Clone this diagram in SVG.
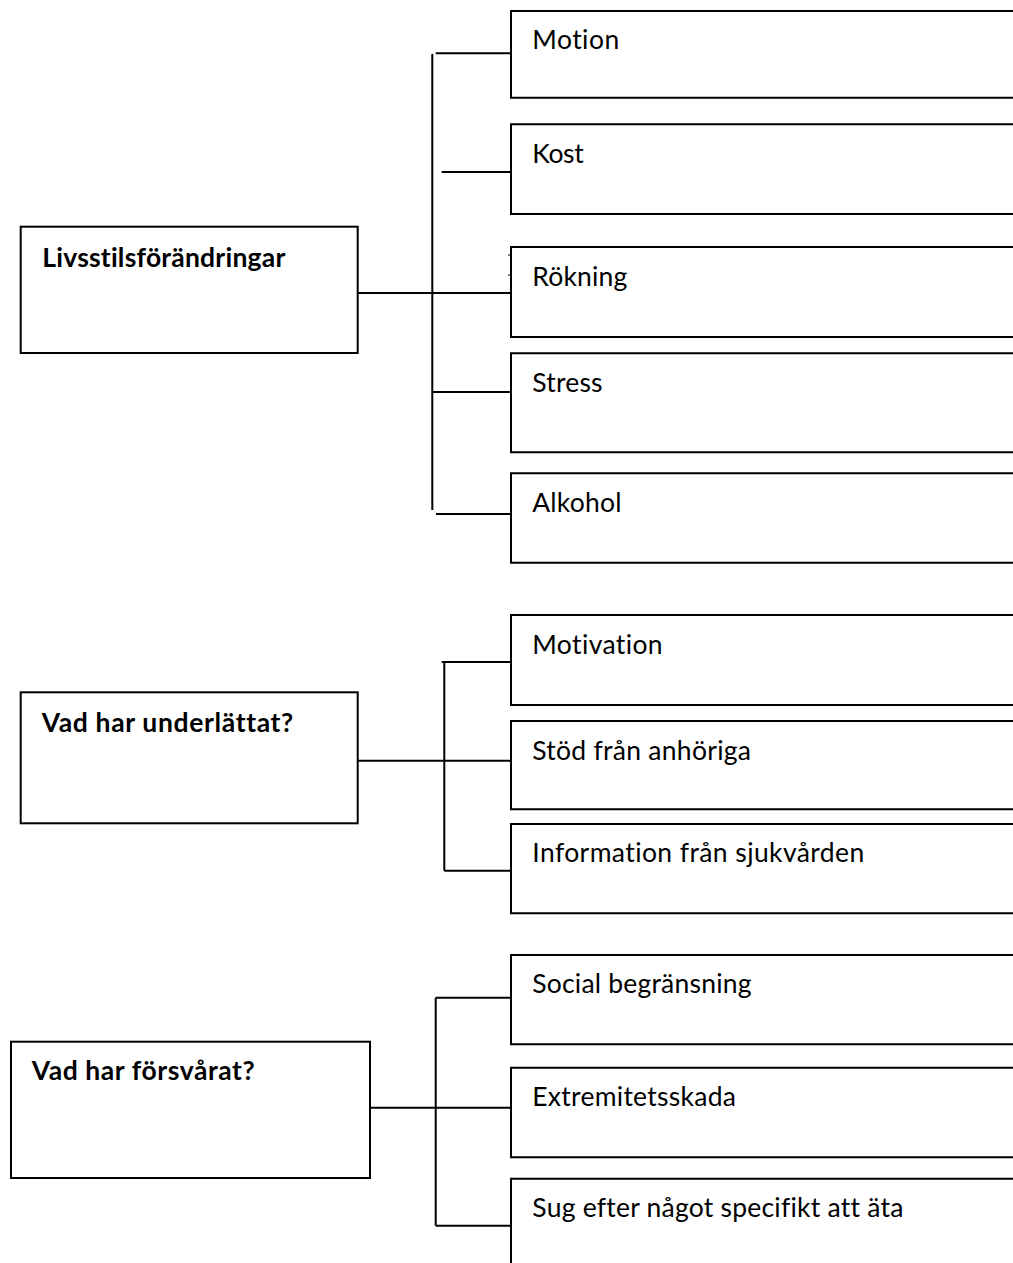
<svg xmlns="http://www.w3.org/2000/svg" width="1013" height="1263" viewBox="0 0 1013 1263">
<style>
.box{fill:#fff;stroke:#000;stroke-width:2}
.open{fill:#fff;stroke:#000;stroke-width:2}
.ln{stroke:#000;stroke-width:2;fill:none}
.tick{stroke:#000;stroke-width:1;fill:none}
.t{font-family:Lato,"Open Sans","Liberation Sans",sans-serif;font-size:26.5px;fill:#000;font-variant-ligatures:none;font-feature-settings:"liga" 0}
.b{font-family:Lato,"Open Sans","Liberation Sans",sans-serif;font-size:26.5px;font-weight:bold;fill:#000;font-variant-ligatures:none;font-feature-settings:"liga" 0}
</style>
<rect width="1013" height="1263" fill="#fff"/>
<g id="connectors">
<path class="ln" d="M432.3,54 V510"/>
<path class="ln" d="M435.7,53.3 H511"/>
<path class="ln" d="M441.7,172 H511"/>
<path class="ln" d="M357.7,293 H511"/>
<path class="ln" d="M432.3,392 H511"/>
<path class="ln" d="M436,514 H511"/>
<path class="tick" d="M508,255 H511 M508,275 H511"/>
<path class="ln" d="M444.3,662 V870.7"/>
<path class="ln" d="M441.7,662 H511"/>
<path class="ln" d="M357.3,760.7 H511"/>
<path class="ln" d="M444.3,870.7 H511"/>
<path class="ln" d="M435.7,997.7 V1225.7"/>
<path class="ln" d="M435.7,997.7 H511"/>
<path class="ln" d="M370,1107.7 H511"/>
<path class="ln" d="M435.7,1225.7 H511"/>
</g>
<g id="livsstil">
<rect class="box" x="20.7" y="226.7" width="337" height="126.3"/>
<text class="b" x="42.3" y="266.7" textLength="243">Livsstilsförändringar</text>
</g>
<g id="motion">
<path class="open" d="M1014,11 H511 V97.7 H1014"/>
<text class="t" x="532.3" y="49.3" textLength="86.9">Motion</text>
</g>
<g id="kost">
<path class="open" d="M1014,124.3 H511 V214 H1014"/>
<text class="t" x="532.3" y="163" textLength="51.4">Kost</text>
</g>
<g id="rokning">
<path class="open" d="M1014,247 H511 V337 H1014"/>
<text class="t" x="532.3" y="285.5" textLength="95">Rökning</text>
</g>
<g id="stress">
<path class="open" d="M1014,353.3 H511 V452.3 H1014"/>
<text class="t" x="532.3" y="391.7" textLength="70.3">Stress</text>
</g>
<g id="alkohol">
<path class="open" d="M1014,473.3 H511 V562.7 H1014"/>
<text class="t" x="532.3" y="511.7" textLength="89.1">Alkohol</text>
</g>
<g id="underlattat">
<rect class="box" x="20.7" y="692.3" width="337" height="131"/>
<text class="b" x="41.7" y="731.7" textLength="251.6">Vad har underlättat?</text>
</g>
<g id="motivation">
<path class="open" d="M1014,615 H511 V705 H1014"/>
<text class="t" x="532.3" y="653.5" textLength="130.3">Motivation</text>
</g>
<g id="stod">
<path class="open" d="M1014,721 H511 V809.3 H1014"/>
<text class="t" x="532.3" y="759.5" textLength="218.7">Stöd från anhöriga</text>
</g>
<g id="information">
<path class="open" d="M1014,824 H511 V913.3 H1014"/>
<text class="t" x="532.3" y="862" textLength="332">Information från sjukvården</text>
</g>
<g id="forsvarat">
<rect class="box" x="11" y="1041.7" width="359" height="136.3"/>
<text class="b" x="31.7" y="1080" textLength="223">Vad har försvårat?</text>
</g>
<g id="social">
<path class="open" d="M1014,955 H511 V1044.3 H1014"/>
<text class="t" x="532.3" y="993.3" textLength="219.2">Social begränsning</text>
</g>
<g id="extremitet">
<path class="open" d="M1014,1067.7 H511 V1157.3 H1014"/>
<text class="t" x="532.3" y="1106" textLength="203.6">Extremitetsskada</text>
</g>
<g id="sug">
<path class="open" d="M1014,1178.7 H511 V1264"/>
<text class="t" x="532.3" y="1216.7" textLength="371">Sug efter något specifikt att äta</text>
</g>
</svg>
